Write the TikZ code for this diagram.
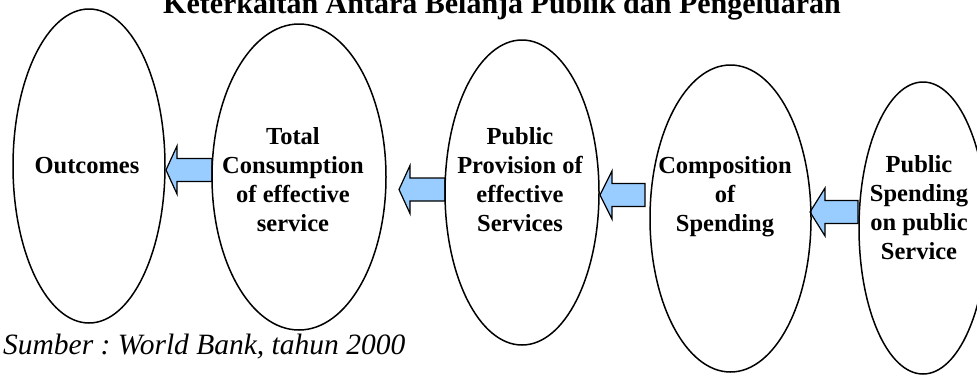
\documentclass[tikz,border=0pt]{standalone}
\usepackage{fontspec}
\setmainfont{Liberation Serif}
\usepackage{xcolor}
\usetikzlibrary{shapes.geometric}
\definecolor{arrowblue}{HTML}{99CCFF}
\frenchspacing
% block arrow: tip, tail, head length
\newcommand{\blockarr}[3]{%
	\filldraw[blockarrow] (#1) -- ([shift={(#3pt,24pt)}]#1) -- ([shift={(#3pt,11.5pt)}]#1)
	-- ([yshift=11.5pt]#2) -- ([yshift=-11.5pt]#2) -- ([shift={(#3pt,-11.5pt)}]#1)
	-- ([shift={(#3pt,-24pt)}]#1) -- cycle;}

\begin{document}
\begin{tikzpicture}[x=1pt,y=-1pt,
	oval/.style={ellipse,draw,line width=1.5pt,inner sep=0pt},
	lbl/.style={align=center,anchor=base,inner sep=0pt,font=\fontsize{24.5}{29}\selectfont\bfseries},
	blockarrow/.style={fill=arrowblue,draw=black,line width=1.2pt,line join=miter}]
	\useasboundingbox (0,0) rectangle (977,375);
	
	% arrows
	\coordinate (t1) at (166,170);   \coordinate (e1) at (212,170);
	\coordinate (t2) at (399,189.5); \coordinate (e2) at (445,189.5);
	\coordinate (t3) at (600,195);   \coordinate (e3) at (645,195);
	\coordinate (t4) at (810,212);   \coordinate (e4) at (858,212);
	\blockarr{t1}{e1}{11}
	\blockarr{t2}{e2}{11}
	\blockarr{t3}{e3}{12}
	\blockarr{t4}{e4}{15}
	
	\begin{scope}[every node/.style={oval}]
		\node (out)   at (89,166)    [minimum width=152pt,minimum height=314pt] {};
		\node (cons)  at (299,177)   [minimum width=174pt,minimum height=306pt] {};
		\node (prov)  at (522,192.5) [minimum width=154pt,minimum height=305pt] {};
		\node (comp)  at (730.5,218.5) [minimum width=161pt,minimum height=307pt] {};
		\node (spend) at (923,228)   [minimum width=128pt,minimum height=292pt] {};
	\end{scope}
	
	% base anchor sits on the last line
	\begin{scope}[every node/.style={lbl}]
		\node (tout)   at (87,173)  {Outcomes};
		\node (tcons)  at (293,231) {Total\\Consumption\\of effective\\service};
		\node (tprov)  at (520,231) {Public\\Provision of\\effective\\Services};
		\node (tcomp)  at (725,231) {Composition\\of\\Spending};
		\node (tspend) at (919,259) {Public\\Spending\\on public\\Service};
	\end{scope}
	
	\node (title) [anchor=base west,inner sep=0pt,font=\fontsize{30}{36}\selectfont\bfseries]
		at (163,13) {Keterkaitan Antara Belanja Publik dan Pengeluaran};
	\node (src) [anchor=base west,inner sep=0pt,font=\fontsize{29.5}{35}\selectfont\itshape]
		at (3,354) {Sumber : World Bank, tahun 2000};
\end{tikzpicture}
\end{document}
